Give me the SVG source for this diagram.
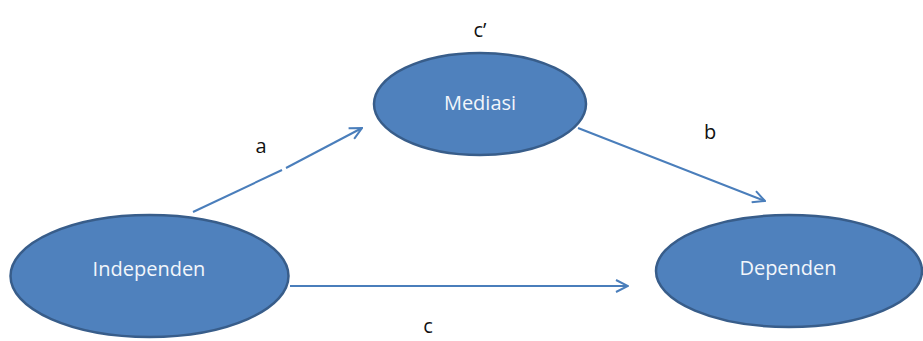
<svg xmlns="http://www.w3.org/2000/svg" width="923" height="341" viewBox="0 0 923 341">
<style>
.node{fill:#4F81BD;stroke:#385D8A;stroke-width:2.5}
.nt{font-family:"Open Sans","Liberation Sans",sans-serif;font-size:20px;fill:#F2F6FB;text-anchor:middle;dominant-baseline:central}
.lbl{font-family:"Open Sans","Liberation Sans",sans-serif;font-size:20px;fill:#111;text-anchor:middle}
.edge{stroke:#4A7EBB;stroke-width:2;fill:none}
</style>
<defs>
<marker id="arr" viewBox="0 0 14 14" refX="13" refY="7" markerWidth="14" markerHeight="14" markerUnits="userSpaceOnUse" orient="auto">
<polyline points="1,1 13,7 1,13" fill="none" stroke="#4A7EBB" stroke-width="2"/>
</marker>
</defs>
<g id="connectors">
<line class="edge" x1="193" y1="212" x2="282" y2="170"/>
<line class="edge" x1="286" y1="168" x2="362" y2="128" marker-end="url(#arr)"/>
<line class="edge" x1="578" y1="128" x2="765" y2="201" marker-end="url(#arr)"/>
<line class="edge" x1="290" y1="286" x2="628" y2="286" marker-end="url(#arr)"/>
</g>
<g id="mediasi">
<ellipse class="node" cx="480" cy="104" rx="106" ry="51"/>
<text class="nt" x="480" y="102">Mediasi</text>
</g>
<g id="independen">
<ellipse class="node" cx="149.5" cy="276" rx="139" ry="61"/>
<text class="nt" x="149" y="268">Independen</text>
</g>
<g id="dependen">
<ellipse class="node" cx="789" cy="271" rx="133" ry="56"/>
<text class="nt" x="788" y="267">Dependen</text>
</g>
<g id="labels">
<text class="lbl" x="480" y="37">c’</text>
<text class="lbl" x="261" y="153">a</text>
<text class="lbl" x="710" y="139">b</text>
<text class="lbl" x="428" y="333">c</text>
</g>
</svg>
